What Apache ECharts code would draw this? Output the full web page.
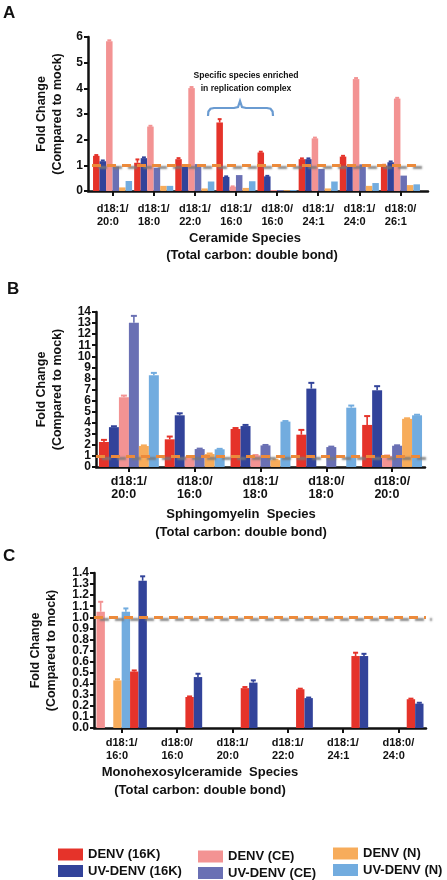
<!DOCTYPE html>
<html><head><meta charset="utf-8">
<script src="https://cdn.jsdelivr.net/npm/echarts@6/dist/echarts.min.js"></script>
<style>html,body{margin:0;padding:0;background:#fff}#c{width:447px;height:880px}</style>
</head><body><div id="c"></div>
<script>
// ---------- DATA ----------
const seriesNames = ['DENV (16K)', 'UV-DENV (16K)', 'DENV (CE)', 'UV-DENV (CE)', 'DENV (N)', 'UV-DENV (N)'];
const colors = ['#E5332A', '#32439A', '#F39393', '#6A70B4', '#F7AC5B', '#72ACDF'];

// Panel A: Ceramide species
const catA = ['d18:1/\n20:0', 'd18:1/\n18:0', 'd18:1/\n22:0', 'd18:1/\n16:0', 'd18:0/\n16:0', 'd18:1/\n24:1', 'd18:1/\n24:0', 'd18:0/\n26:1'];
const aDenv16K = [1.37, 1.10, 1.24, 2.67, 1.50, 1.24, 1.34, 0.99];
const aUv16K   = [1.16, 1.28, 0.95, 0.55, 0.57, 1.24, 0.98, 1.12];
const aDenvCE  = [5.83, 2.51, 4.01, 0.17, 0.04, 2.05, 4.36, 3.60];
const aUvCE    = [0.95, 0.91, 1.05, 0.62, 0.04, 0.86, 1.04, 0.60];
const aDenvN   = [0.14, 0.20, 0.10, 0.12, 0.03, 0.10, 0.20, 0.23];
const aUvN     = [0.39, 0.20, 0.37, 0.38, 0.04, 0.37, 0.31, 0.26];
const aDenv16KErr = [1.40, 1.23, 1.28, 2.80, 1.53, 1.27, 1.37, 1.02];
const aUv16KErr   = [1.19, 1.31, 0.97, 0.57, 0.59, 1.27, 1.00, 1.15];
const aDenvCEErr  = [5.87, 2.54, 4.05, 0.18, 0.04, 2.08, 4.40, 3.63];

// Panel B: Sphingomyelin species
const catB = ['d18:1/\n20:0', 'd18:0/\n16:0', 'd18:1/\n18:0', 'd18:0/\n18:0', 'd18:0/\n20:0'];
const bDenv16K = [2.26, 2.50, 3.43, 2.92, 3.80];
const bUv16K   = [3.60, 4.67, 3.70, 7.08, 6.93];
const bDenvCE  = [6.30, 0.95, 1.05, 0.00, 1.00];
const bUvCE    = [13.04, 1.62, 1.95, 1.80, 1.92];
const bDenvN   = [1.90, 1.17, 0.62, 0.00, 4.35];
const bUvN     = [8.28, 1.60, 4.10, 5.36, 4.67];
const bDenv16KErr = [2.45, 2.75, 3.52, 3.35, 4.60];
const bUv16KErr   = [3.68, 4.85, 3.80, 7.60, 7.30];
const bDenvCEErr  = [6.45, 0.97, 1.08, 0.00, 1.04];
const bUvCEErr    = [13.65, 1.66, 1.99, 1.84, 1.96];
const bDenvNErr   = [1.95, 1.22, 0.66, 0.00, 4.40];
const bUvNErr     = [8.50, 1.64, 4.15, 5.55, 4.72];

// Panel C: Monohexosylceramide species
const catC = ['d18:1/\n16:0', 'd18:0/\n16:0', 'd18:1/\n20:0', 'd18:1/\n22:0', 'd18:1/\n24:1', 'd18:0/\n24:0'];
const cDenvCE  = [1.05, 0, 0, 0, 0, 0];
const cUvCE    = [0, 0, 0, 0, 0, 0];
const cDenvN   = [0.43, 0, 0, 0, 0, 0];
const cUvN     = [1.05, 0, 0, 0, 0, 0];
const cDenv16K = [0.51, 0.28, 0.36, 0.35, 0.65, 0.26];
const cUv16K   = [1.33, 0.46, 0.41, 0.27, 0.65, 0.22];
const cDenvCEErr  = [1.14, 0, 0, 0, 0, 0];
const cUvNErr     = [1.08, 0, 0, 0, 0, 0];
const cDenvNErr   = [0.44, 0, 0, 0, 0, 0];
const cDenv16KErr = [0.52, 0.285, 0.37, 0.355, 0.68, 0.265];
const cUv16KErr   = [1.37, 0.49, 0.43, 0.275, 0.67, 0.228];

const yTicksA = [0, 6, 1];
const yTicksB = [0, 14, 1];
const yTicksC = [0, 1.4, 0.1];

// ---------- STYLE ----------
const FONT = '"Liberation Sans", Arial, Helvetica, sans-serif';
const BLACK = '#111';
const refLine = {
  silent: true, symbol: 'none', label: { show: false },
  lineStyle: { color: '#EC8A3B', type: [9, 6], width: 3, shadowColor: 'rgba(120,120,120,0.85)', shadowBlur: 2, shadowOffsetX: 6, shadowOffsetY: 2 },
  data: [{ yAxis: 1 }]
};

function bar(name, data, axis, color, gap, withRef) {
  const s = {
    type: 'bar', name, data, xAxisIndex: axis, yAxisIndex: axis,
    barGap: '0%', barCategoryGap: (gap * 100) + '%',
    itemStyle: { color }, animation: false, silent: true
  };
  if (withRef) s.markLine = refLine;
  return s;
}
function err(vals, tops, axis, idx, n, gap, color) {
  const data = vals.map((v, i) => [i, v, tops[i]]).filter(d => d[2] > d[1] + 1e-6);
  return {
    type: 'custom', xAxisIndex: axis, yAxisIndex: axis, data, silent: true, animation: false, z: 3,
    renderItem(params, api) {
      const c = api.value(0), v = api.value(1), t = api.value(2);
      const p0 = api.coord([c, v]), p1 = api.coord([c, t]);
      const band = api.size([1, 0])[0];
      const gw = band * (1 - gap), bw = gw / n;
      const x = p0[0] - gw / 2 + bw * (idx + 0.5);
      const hw = bw * 0.3;
      return { type: 'group', children: [
        { type: 'line', shape: { x1: x, y1: p0[1], x2: x, y2: p1[1] }, style: { stroke: color, lineWidth: 1.6 } },
        { type: 'line', shape: { x1: x - hw, y1: p1[1], x2: x + hw, y2: p1[1] }, style: { stroke: color, lineWidth: 2 } }
      ]};
    }
  };
}
function catAxis(gi, data, fs, lh, showLine, margin) {
  return {
    type: 'category', gridIndex: gi, data,
    axisLine: { show: showLine, lineStyle: { color: BLACK, width: 2.5 } },
    axisTick: { show: true, alignWithLabel: true, interval: 0, length: 5, lineStyle: { color: BLACK, width: 2 } },
    axisLabel: { interval: 0, hideOverlap: false, margin, color: BLACK, fontFamily: FONT, fontWeight: 'bold', fontSize: fs, lineHeight: lh,
      formatter: v => { const p = v.split('\n'); return p[0] + '\n' + p[1] + '   '; } },
    splitLine: { show: false }
  };
}
const fmt = (v, dec) => dec ? v.toFixed(1) : String(Math.round(v));
function valAxis(gi, t, gap, showLine, offset, dec) {
  return {
    type: 'value', gridIndex: gi, min: t[0], max: t[1], interval: t[2], offset: offset || 0,
    name: 'Fold Change\n(Compared to mock)', nameLocation: 'middle', nameGap: gap,
    nameTextStyle: { color: BLACK, fontFamily: FONT, fontWeight: 'bold', fontSize: 12.5, lineHeight: 16 },
    axisLine: { show: showLine, lineStyle: { color: BLACK, width: 2.5 } },
    axisTick: { show: true, length: 4, lineStyle: { color: BLACK, width: 2 } },
    axisLabel: { margin: 5, showMinLabel: true, showMaxLabel: true,
      color: BLACK, fontFamily: FONT, fontWeight: 'bold', fontSize: 12,
      formatter: v => fmt(v, dec) },
    splitLine: { show: false }
  };
}
// companion axis in an identical grid: shows the labels next to min/max that the main axis drops when crowded
function helperY(gi, t, dec) {
  const second = t[0] + t[2], penult = t[1] - t[2];
  return {
    type: 'value', gridIndex: gi, min: t[0], max: t[1], interval: t[2],
    axisLine: { show: false },
    axisTick: { show: true, length: 4, lineStyle: { color: BLACK, width: 2 } },
    axisLabel: { margin: 5, color: BLACK, fontFamily: FONT, fontWeight: 'bold', fontSize: 12,
      formatter: v => (Math.abs(v - second) < 1e-6 || Math.abs(v - penult) < 1e-6) ? fmt(v, dec) : '' },
    splitLine: { show: false }
  };
}
const hiddenX = gi => ({ type: 'value', gridIndex: gi, min: 0, max: 1, show: false });
function txt(text, x, y, size, align) {
  return { type: 'text', silent: true, style: { text, x, y, fill: BLACK,
    font: 'bold ' + size + 'px ' + FONT,
    align: align || 'center', textAlign: align || 'center', verticalAlign: 'middle', textVerticalAlign: 'middle' } };
}

const gA = 0.05, gB = 0.09, gC = 0.09;
const aVals = [aDenv16K, aUv16K, aDenvCE, aUvCE, aDenvN, aUvN];
const bVals = [bDenv16K, bUv16K, bDenvCE, bUvCE, bDenvN, bUvN];
const bErrs = [bDenv16KErr, bUv16KErr, bDenvCEErr, bUvCEErr, bDenvNErr, bUvNErr];
// Panel C plots series in a different order: CE, UV-CE, N, UV-N, 16K, UV-16K
const orderC = [2, 3, 4, 5, 0, 1];
const cVals = [cDenvCE, cUvCE, cDenvN, cUvN, cDenv16K, cUv16K];
const cErrs = [cDenvCEErr, null, cDenvNErr, cUvNErr, cDenv16KErr, cUv16KErr];

const series = [];
aVals.forEach((d, i) => series.push(bar(seriesNames[i], d, 0, colors[i], gA, i === 5)));
series.push(err(aDenv16K, aDenv16KErr, 0, 0, 6, gA, colors[0]));
series.push(err(aUv16K, aUv16KErr, 0, 1, 6, gA, colors[1]));
series.push(err(aDenvCE, aDenvCEErr, 0, 2, 6, gA, colors[2]));
bVals.forEach((d, i) => series.push(bar(seriesNames[i], d, 1, colors[i], gB, i === 5)));
bErrs.forEach((e, i) => series.push(err(bVals[i], e, 1, i, 6, gB, colors[i])));
cVals.forEach((d, i) => series.push(bar(seriesNames[orderC[i]], d, 2, colors[orderC[i]], gC, i === 5)));
cErrs.forEach((e, i) => { if (e) series.push(err(cVals[i], e, 2, i, 6, gC, colors[orderC[i]])); });

const legendBase = { orient: 'vertical', padding: 0, itemWidth: 25, itemHeight: 12, itemGap: 3.5, icon: 'rect',
  selectedMode: false, textStyle: { color: BLACK, fontFamily: FONT, fontWeight: 'bold', fontSize: 13, lineHeight: 12 } };

const gridB = { left: 96, right: 22, top: 312, bottom: 413 };
const gridC = { left: 94, right: 21, top: 573, bottom: 152 };
const option = {
  backgroundColor: '#fff',
  animation: false,
  grid: [
    { left: 92, right: 26, top: 37, bottom: 689 },
    gridB,
    gridC,
    { left: 88, right: 19, top: 37, bottom: 689 },
    Object.assign({}, gridB),
    Object.assign({}, gridC)
  ],
  xAxis: [
    catAxis(0, catA, 11, 12.5, false, 12),
    catAxis(1, catB, 12.5, 13, true, 8),
    catAxis(2, catC, 11, 13.5, true, 8),
    { type: 'value', gridIndex: 3, min: 0, max: 1, axisLine: { show: true, lineStyle: { color: BLACK, width: 2.5 } },
      axisTick: { show: false }, axisLabel: { show: false }, splitLine: { show: false } },
    hiddenX(4),
    hiddenX(5)
  ],
  yAxis: [
    valAxis(0, yTicksA, 20, false, 4, false),
    valAxis(1, yTicksB, 30, true, 0, false),
    valAxis(2, yTicksC, 34, true, 0, true),
    { type: 'value', gridIndex: 3, min: 0, max: 6, axisLine: { show: true, lineStyle: { color: BLACK, width: 2.5 } },
      axisTick: { show: false }, axisLabel: { show: false }, splitLine: { show: false } },
    helperY(4, yTicksB, false),
    helperY(5, yTicksC, true)
  ],
  legend: [
    Object.assign({ left: 58, top: 848, data: ['DENV (16K)', 'UV-DENV (16K)'] }, legendBase),
    Object.assign({ left: 198, top: 850, data: ['DENV (CE)', 'UV-DENV (CE)'] }, legendBase),
    Object.assign({ left: 333, top: 847, data: ['DENV (N)', 'UV-DENV (N)'] }, legendBase)
  ],
  series,
  graphic: [
    txt('A', 3, 13, 17, 'left'),
    txt('B', 7, 289, 17, 'left'),
    txt('C', 3, 556, 17, 'left'),
    txt('Specific species enriched', 246, 76, 8.6),
    txt('in replication complex', 246, 89, 8.6),
    { type: 'polyline', silent: true,
      shape: { points: [[208,116],[208.4,111.5],[210.5,108.8],[214,108],[234,108],[238,107],[240,101],[242,107],[246,108],[267,108],[270.5,108.8],[272.6,111.5],[273,116]] },
      style: { fill: null, stroke: '#6A9BD1', lineWidth: 2.2 } },
    txt('Ceramide Species', 245, 238, 13),
    txt('(Total carbon: double bond)', 252, 255, 13),
    txt('Sphingomyelin  Species', 241, 514, 13),
    txt('(Total carbon: double bond)', 241, 532, 13),
    txt('Monohexosylceramide  Species', 200, 772, 13),
    txt('(Total carbon: double bond)', 200, 790, 13)
  ]
};
const chart = echarts.init(document.getElementById('c'), null, { renderer: 'canvas' });
chart.setOption(option);
</script></body></html>
